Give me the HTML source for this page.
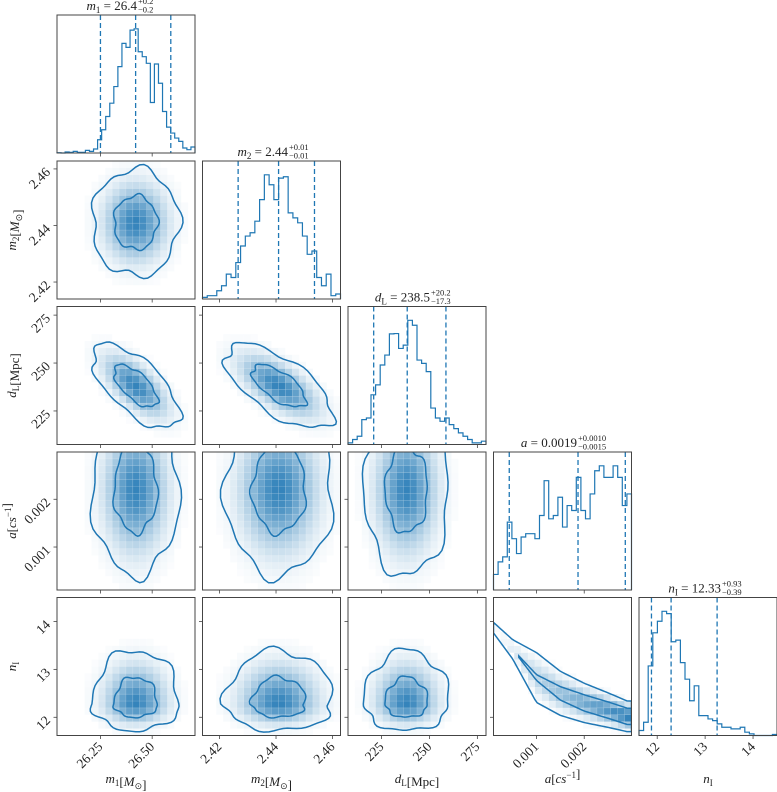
<!DOCTYPE html>
<html><head><meta charset="utf-8">
<style>
html,body{margin:0;padding:0;background:#fff;}
svg{display:block;font-family:"Liberation Serif",serif;}
</style></head>
<body>
<svg id="chart" width="777" height="792" viewBox="0 0 777 792" xmlns="http://www.w3.org/2000/svg"></svg>
<script>
// ---- data ----
const paramNames = ["m1","m2","dL","a","n"];
const axisMin = [26.04, 2.414, 207.5, 0.0001, 11.62];
const axisMax = [26.707, 2.4628, 279.5, 0.00299, 14.5];
const tickVals = [[26.25,26.50],[2.42,2.44,2.46],[225,250,275],[0.001,0.002],[12,13,14]];
const tickLabels = [["26.25","26.50"],["2.42","2.44","2.46"],["225","250","275"],["0.001","0.002"],["12","13","14"]];
const histM1 = [1,0,3,2,5,2,2,8,5,12,40,70,110,150,200,260,330,318,370,374,305,290,270,152,268,210,125,78,60,45,35,15,10,18];
const histM2 = [5,10,10,25,40,75,65,110,160,190,200,235,300,375,345,300,365,369,260,245,230,190,135,145,65,40,75,10,15];
const histDL = [5,15,25,75,80,150,180,240,270,334,335,290,300,375,360,255,245,220,110,80,70,80,60,48,35,25,15,5,5,10];
const histA = [47,85,100,205,155,110,160,170,170,155,225,330,215,225,280,190,255,240,340,240,215,290,360,375,340,340,375,340,255,290];
const histN = [15,40,210,310,345,375,368,283,288,220,170,105,150,60,60,50,45,35,25,25,20,20,25,10,5,0,0,0,0,3];
const quantM1 = [26.25,26.42,26.59];
const quantM2 = [2.4266,2.4409,2.4536];
const quantDL = [220.9,238.4,258.6];
const quantA = [0.00043,0.00187,0.00286];
const quantN = [11.88,12.29,13.25];
const means = [26.42, 2.441, 238, 0.0022, 12.28];
const sds = [0.105, 0.0095, 11, 0.0009, 0.28];
const skewUp = [1, 1, 1, 1, 2.0];
// correlation pairs [i,j,rho]
const corrI = [2,2];
const corrJ = [0,1];
const corrR = [-0.65,-0.65];
// a-n curved ridge
const ridgeA = [0.0001,0.0005,0.001,0.0015,0.002,0.0025,0.0029];
const ridgeN = [13.87,13.42,12.83,12.5,12.3,12.15,12.02];
const outerHW = [0.11,0.2,0.52,0.46,0.41,0.36,0.32];
const innerHW = [0,0,0.06,0.14,0.17,0.17,0.17];
const titleMain = [["m","1"," = 26.4"],["m","2"," = 2.44"],["d","L"," = 238.5"],["a",""," = 0.0019"],["n","I"," = 12.33"]];
const titleSup = ["+0.2","+0.01","+20.2","+0.0010","+0.93"];
const titleSub = ["−0.2","−0.01","−17.3","−0.0015","−0.39"];
const axisTitle = [["m","1","[M","⊙","]"],["m","2","[M","⊙","]"],["d","L","[Mpc]","",""],["a","","[cs","−1","]"],["n","I","","",""]];
const hists = [histM1,histM2,histDL,histA,histN];
const quants = [quantM1,quantM2,quantDL,quantA,quantN];

// ---- layout ----
const L = [57,202.5,348,493.5,639];
const T = [15,161,306.5,452,597.5];
const S = 138;
const titleEnd = [137,288,430,577,721];
const C = "#1f77b4";
const NS = "http://www.w3.org/2000/svg";
const svg = document.getElementById("chart");
function el(tag, attrs, parent){const e=document.createElementNS(NS,tag);for(const k in attrs)e.setAttribute(k,attrs[k]);(parent||svg).appendChild(e);return e;}
function sx(i,v){return L[i]+(v-axisMin[i])/(axisMax[i]-axisMin[i])*S;}
function sy(r,v){return T[r]+S-(v-axisMin[r])/(axisMax[r]-axisMin[r])*S;}
function interp(xs,ys,x){if(x<=xs[0])return ys[0];for(let k=1;k<xs.length;k++){if(x<=xs[k]){const t=(x-xs[k-1])/(xs[k]-xs[k-1]);return ys[k-1]+t*(ys[k]-ys[k-1]);}}return ys[ys.length-1];}
function corr(i,j){for(let k=0;k<corrI.length;k++){if((corrI[k]===i&&corrJ[k]===j)||(corrI[k]===j&&corrJ[k]===i))return corrR[k];}return 0;}

const defs = el("defs",{});
function frame(c,r,name){
  const f=el("rect",{x:L[c],y:T[r],width:S,height:S,fill:"none",stroke:"#444","stroke-width":1});
  
  
  tickVals[c].forEach(v=>{const x=sx(c,v);el("line",{x1:x,x2:x,y1:T[r]+S,y2:T[r]+S+3.5,stroke:"#444","stroke-width":0.8});});
  if(c!==r){tickVals[r].forEach(v=>{const y=sy(r,v);el("line",{x1:L[c]-3.5,x2:L[c],y1:y,y2:y,stroke:"#444","stroke-width":0.8});});}
}

// ---- diagonal histograms ----
for(let i=0;i<5;i++){
  const g=el("g",{});
  
  
  const h=hists[i], n=h.length, mx=Math.max(...h)/0.9;
  const bw=(axisMax[i]-axisMin[i])/n;
  let d="M"+sx(i,axisMin[i])+","+(T[i]+S);
  for(let k=0;k<n;k++){
    const y=T[i]+S-h[k]/mx*S;
    d+=" L"+sx(i,axisMin[i]+k*bw)+","+y+" L"+sx(i,axisMin[i]+(k+1)*bw)+","+y;
  }
  d+=" L"+sx(i,axisMax[i])+","+(T[i]+S);
  const p=el("path",{d:d,fill:"none",stroke:C,"stroke-width":1.2},g);
  
  
  quants[i].forEach((q,qi)=>{
    const x=sx(i,q);
    const ln=el("line",{x1:x,x2:x,y1:T[i],y2:T[i]+S,stroke:C,"stroke-width":1.3,"stroke-dasharray":"5,3"},g);
    
    
  });
  frame(i,i,'histogram-'+paramNames[i]);
  const tg=el("g",{});
  
  
  const xe=titleEnd[i], yb=T[i]-5;
  const t=el("text",{x:xe,y:yb,"text-anchor":"end","font-size":13,fill:"#222"},tg);
  const t1=el("tspan",{"font-style":"italic"},t);t1.textContent=titleMain[i][0];
  if(titleMain[i][1]){const t2=el("tspan",{"font-size":9,dy:3},t);t2.textContent=titleMain[i][1];const t3=el("tspan",{dy:-3},t);t3.textContent=titleMain[i][2];}
  else{const t3=el("tspan",{},t);t3.textContent=titleMain[i][2];}
  const su=el("text",{x:xe+1,y:yb-6,"font-size":8.5,fill:"#222"},tg);su.textContent=titleSup[i];
  const sb=el("text",{x:xe+1,y:yb+2.5,"font-size":8.5,fill:"#222"},tg);sb.textContent=titleSub[i];
}

// ---- 2D panels ----
const NB=20;
for(let r=1;r<5;r++){
  for(let c=0;c<r;c++){
    const name='density-'+paramNames[r]+'-vs-'+paramNames[c];
    const cp=el("clipPath",{id:"cp"+r+c},defs);
    el("rect",{x:L[c],y:T[r],width:S,height:S},cp);
    const g=el("g",{"clip-path":"url(#cp"+r+c+")"});
    
    
    const curved=(r===4&&c===3);
    const rho=corr(r,c);
    function dens(xv,yv){
      if(curved){
        const rn=interp(ridgeA,ridgeN,xv), w=interp(ridgeA,outerHW,xv)/2;
        const wt=Math.pow(Math.max(xv,0.0001)/0.0029,0.8);
        return wt*Math.exp(-0.5*Math.pow((yv-rn)/w,2));
      }
      const u=(xv-means[c])/sds[c];
      const v=(yv-means[r])/(sds[r]*(yv>means[r]?skewUp[r]:1));
      return Math.exp(-0.5*(u*u-2*rho*u*v+v*v)/(1-rho*rho));
    }
    const cells=[];let dmax=0;
    for(let a=0;a<NB;a++)for(let b=0;b<NB;b++){
      const x0=axisMin[c]+a*(axisMax[c]-axisMin[c])/NB, x1=x0+(axisMax[c]-axisMin[c])/NB;
      const y0=axisMin[r]+b*(axisMax[r]-axisMin[r])/NB, y1=y0+(axisMax[r]-axisMin[r])/NB;
      const d=dens((x0+x1)/2,(y0+y1)/2);dmax=Math.max(dmax,d);cells.push([x0,x1,y0,y1,d]);
    }
    cells.forEach(cl=>{
      const o=Math.pow(Math.min(1,cl[4]/dmax),1.3)*0.9;
      if(o<0.02)return;
      const X=sx(c,cl[0]),Y=sy(r,cl[3]);
      el("rect",{x:X,y:Y,width:sx(c,cl[1])-X,height:sy(r,cl[2])-Y,fill:C,"fill-opacity":o.toFixed(3),stroke:"#fff","stroke-opacity":0.25,"stroke-width":0.4},g);
    });
    if(curved){
      [innerHW,outerHW].forEach((hw,li)=>{
        const xs=[];for(let k=0;k<=60;k++)xs.push(axisMin[c]+k*(axisMax[c]-axisMin[c])/60);
        const valid=xs.filter(x=>interp(ridgeA,hw,x)>0.01);
        if(!valid.length)return;
        let top=valid.map(x=>sx(c,x)+","+sy(r,interp(ridgeA,ridgeN,x)+interp(ridgeA,hw,x)));
        let bot=valid.slice().reverse().map(x=>sx(c,x)+","+sy(r,interp(ridgeA,ridgeN,x)-interp(ridgeA,hw,x)));
        const p=el("path",{d:"M"+top.join(" L")+" L"+bot.join(" L")+"Z",fill:"none",stroke:C,"stroke-width":1.5},g);
        
        
      });
    } else {
      [1,2].forEach(rad=>{
        const pts=[];
        for(let k=0;k<=72;k++){
          const t=k/72*2*Math.PI;
          const wob=1+0.06*Math.sin(5*t+r+c)+0.04*Math.cos(9*t+r*c);
          const xv=means[c]+rad*wob*sds[c]*Math.cos(t);
          let dy=rad*wob*sds[r]*(rho*Math.cos(t)+Math.sqrt(1-rho*rho)*Math.sin(t));
          if(dy>0)dy*=skewUp[r];
          const yv=means[r]+dy;
          pts.push(sx(c,xv)+","+sy(r,yv));
        }
        const p=el("path",{d:"M"+pts.join(" L")+"Z",fill:"none",stroke:C,"stroke-width":1.5},g);
        
        
      });
    }
    frame(c,r,name);
  }
}

// ---- tick labels ----
for(let c=0;c<5;c++){
  tickVals[c].forEach((v,k)=>{
    const x=sx(c,v), y=T[4]+S+8;
    const t=el("text",{x:x+3,y:y+4,"text-anchor":"end","font-size":13.5,fill:"#222",transform:"rotate(-45 "+(x+3)+" "+(y+4)+")"});
    
    
    t.textContent=tickLabels[c][k];
  });
}
for(let r=1;r<5;r++){
  tickVals[r].forEach((v,k)=>{
    const x=L[0]-6, y=sy(r,v)+4;
    const t=el("text",{x:x,y:y,"text-anchor":"end","font-size":13.5,fill:"#222",transform:"rotate(-45 "+x+" "+y+")"});
    
    
    t.textContent=tickLabels[r][k];
  });
}
// ---- axis titles ----
function mathLabel(t,parts){
  const a=el("tspan",{"font-style":"italic"},t);a.textContent=parts[0];
  if(parts[1]){const b=el("tspan",{"font-size":9,dy:3},t);b.textContent=parts[1];const z=el("tspan",{dy:-3},t);z.textContent="";}
  if(parts[2]){const m=parts[2];
    const br=el("tspan",{},t);br.textContent=m.charAt(0);
    const rest=el("tspan",{"font-style":m.length>1&&m!=="[Mpc]"?"italic":"normal"},t);rest.textContent=m.slice(1);}
  if(parts[3]){const sup=(parts[3]==="−1");const s=el("tspan",{"font-size":9,dy:sup?-5:3},t);s.textContent=parts[3];const z=el("tspan",{dy:sup?5:-3},t);z.textContent="";}
  if(parts[4]){const e=el("tspan",{},t);e.textContent=parts[4];}
}
for(let c=0;c<5;c++){
  const t=el("text",{x:L[c]+S/2,y:783,"text-anchor":"middle","font-size":13,fill:"#222"});
  
  
  mathLabel(t,axisTitle[c]);
}
for(let r=1;r<5;r++){
  const x=16,y=T[r]+S/2;
  const t=el("text",{x:x,y:y,"text-anchor":"middle","font-size":13,fill:"#222",transform:"rotate(-90 "+x+" "+y+")"});
  
  
  mathLabel(t,axisTitle[r]);
}
</script>
</body></html>
